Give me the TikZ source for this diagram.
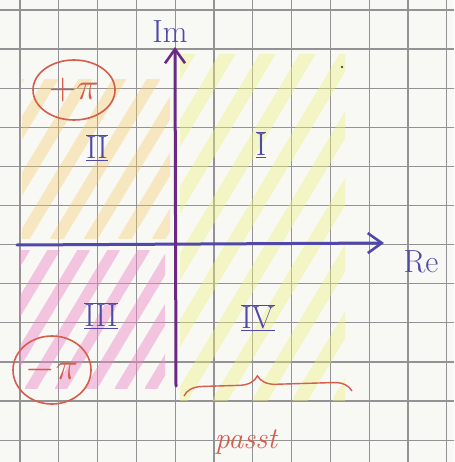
\documentclass[tikz,border=0pt]{standalone}
\usepackage{fix-cm}
\usetikzlibrary{arrows.meta,decorations.pathreplacing,shapes.geometric}
\definecolor{paper}{HTML}{F8F8F5}
\definecolor{gridc}{HTML}{949294}
\definecolor{bluepen}{HTML}{4F48A8}
\definecolor{purplepen}{HTML}{6A2A82}
\definecolor{redpen}{HTML}{D65C4C}
\definecolor{hlyellow}{HTML}{EEF27C}
\definecolor{hlorange}{HTML}{F5CA5E}
\definecolor{hlpink}{HTML}{EE86C6}
\newcommand\rnum[1]{$\overline{\underline{\mathrm{#1}}}$}
\begin{document}
\begin{tikzpicture}[x=1pt,y=-1pt,
  gridline/.style={draw=gridc,line width=1.2pt},
  axisline/.style={line width=3pt,line cap=round},
  tipstyle/.style={-{Straight Barb[length=14pt,width=20pt,line width=2.6pt]}},
  numeral/.style={text=bluepen,font=\fontsize{32}{32}\selectfont},
  axlabel/.style={text=bluepen,font=\fontsize{32}{32}\selectfont},
  pinode/.style={draw=redpen,line width=1.6pt,ellipse,text=redpen,font=\fontsize{38}{38}\selectfont,inner sep=0pt},
  ystripe/.style={draw=hlyellow,line width=14pt,opacity=0.4,line cap=round},
  ostripe/.style={draw=hlorange,line width=12pt,opacity=0.35,line cap=round},
  pstripe/.style={draw=hlpink,line width=11pt,opacity=0.45,line cap=round}]
\useasboundingbox (0,0) rectangle (454,462);
\fill[paper] (0,0) rectangle (454,462);
% grid
\foreach \i in {0,...,11} \draw[gridline] ({20+38.8*\i},0) -- ({20+38.8*\i},462);
\foreach \j in {0,...,11} \draw[gridline] (0,{10+39.1*\j}) -- (454,{10+39.1*\j});
% highlighter hatching
\begin{scope}
  \clip (180,55) rectangle (345,400);
  \foreach \k in {0,...,12} \draw[ystripe] ({-60+40*\k},400) -- ({-60+40*\k+210},50);
\end{scope}
\begin{scope}
  \clip (22,80) rectangle (170,238);
  \foreach \k in {0,...,8} \draw[ostripe] ({-80+34*\k},240) -- ({-80+34*\k+100},75);
\end{scope}
\begin{scope}
  \clip (20,250) rectangle (165,388);
  \foreach \k in {0,...,9} \draw[pstripe] ({-60+30*\k},390) -- ({-60+30*\k+85},248);
\end{scope}
% axes
\coordinate (reS) at (17,245);
\coordinate (reE) at (384,243);
\coordinate (imS) at (176,386);
\coordinate (imE) at (175,47);
\draw[axisline,bluepen,tipstyle] (reS) -- (reE);
\draw[axisline,purplepen,tipstyle] (imS) -- (imE);
\node[axlabel] (im) at (170,32) {Im};
\node[axlabel] (re) at (421,262) {Re};
% quadrant numerals
\node[numeral] (q1) at (261,145) {\rnum{I}};
\node[numeral] (q2) at (97,148) {\rnum{II}};
\node[numeral] (q3) at (101,316) {\rnum{III}};
\node[numeral] (q4) at (258,318) {\rnum{IV}};
% +pi / -pi
\node[pinode,minimum width=82pt,minimum height=60pt] (pp) at (74,90) {$+\pi$};
\node[pinode,minimum width=78pt,minimum height=68pt] (mp) at (52,370) {$-\pi$};
% brace and passt
\coordinate (b1) at (184,396);
\coordinate (b2) at (352,391);
\draw[redpen,line width=1.4pt,decorate,decoration={brace,amplitude=18pt,aspect=0.44}] (b1) -- (b2);
\node[text=redpen,font=\itshape\fontsize{30}{30}\selectfont] (passt) at (246,442) {passt};
% stray dot
\fill[black!70] (342,67) circle (1.3pt);
\end{tikzpicture}
\end{document}
